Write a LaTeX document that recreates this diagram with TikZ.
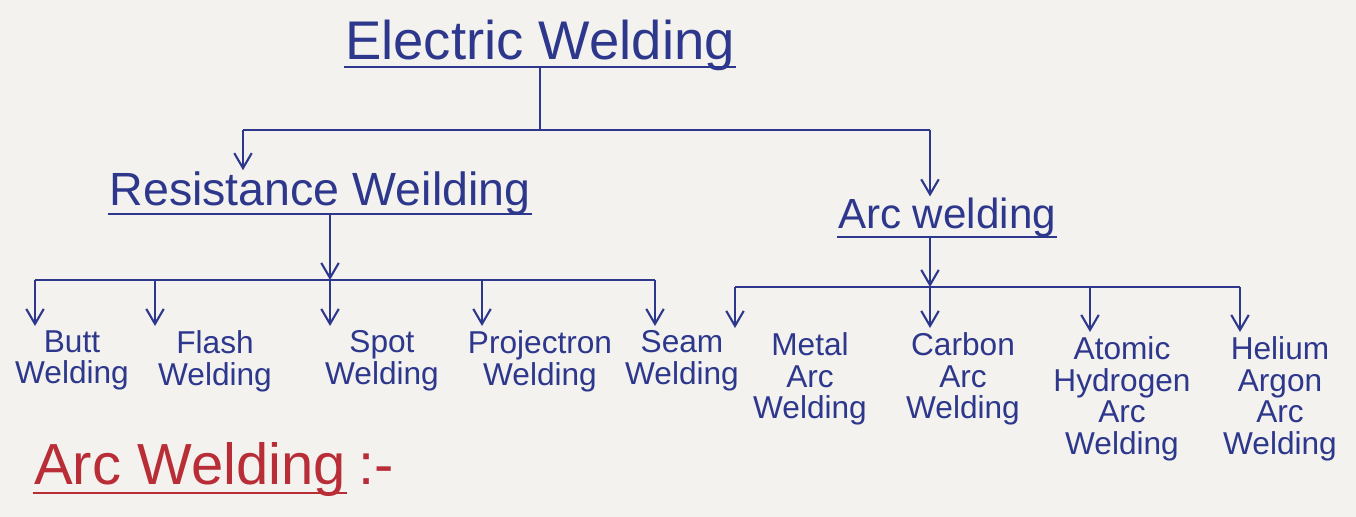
\documentclass[tikz,border=0pt]{standalone}
\usepackage{fontspec}
\setmainfont{Liberation Sans}
\usetikzlibrary{arrows.meta,positioning}
\definecolor{ink}{RGB}{45,55,140}
\definecolor{redink}{RGB}{185,45,55}
\definecolor{paper}{RGB}{243,242,239}
\begin{document}
\begin{tikzpicture}[x=0.02cm,y=-0.02cm,ink,line width=1.2pt,
    >={Straight Barb[length=3mm,width=3.5mm]},
    head/.style={inner sep=0pt,anchor=base,font=\fontsize{26.5}{28}\selectfont},
    kind/.style={inner sep=2pt,anchor=north,align=center,font=\fontsize{18}{18}\selectfont}]
  \fill[paper] (0,0) rectangle (1356,517);
  \useasboundingbox (0,0) rectangle (1356,517);

  \node[head,font=\fontsize{31}{34}\selectfont] (ew) at (540,60) {Electric Welding};
  \node[head] (rw) at (320,205) {Resistance Weilding};
  \node[head,font=\fontsize{24}{26}\selectfont] (aw) at (947,228) {Arc welding};

  \node[kind] (butt) at (72,326) {Butt\\Welding};
  \node[kind] (flash) at (215,326) {Flash\\Welding};
  \node[kind] (spot) at (382,326) {Spot\\Welding};
  \node[kind] (proj) at (540,326) {Projectron\\Welding};
  \node[kind] (seam) at (682,326) {Seam\\Welding};
  \node[kind] (metal) at (810,328) {Metal\\Arc\\Welding};
  \node[kind] (carbon) at (963,328) {Carbon\\Arc\\Welding};
  \node[kind] (atomic) at (1122,332) {Atomic\\Hydrogen\\Arc\\Welding};
  \node[kind] (helium) at (1280,332) {Helium\\Argon\\Arc\\Welding};

  \node[head,redink,font=\fontsize{33}{36}\selectfont] (note) at (190,484) {Arc Welding};
  \node[head,redink,anchor=base west,font=\fontsize{33}{36}\selectfont] (notec) at ([xshift=6pt]note.base east) {:-};

  % underlines
  \draw ([yshift=-4pt]ew.base west) -- ([yshift=-4pt]ew.base east);
  \draw ([yshift=-5pt]rw.base west) -- ([yshift=-5pt]rw.base east);
  \draw ([yshift=-5pt]aw.base west) -- ([yshift=-5pt]aw.base east);
  \draw[redink] ([yshift=-5pt]note.base west) -- ([yshift=-5pt]note.base east);

  % first level
  \coordinate (ewu) at (540,67);
  \coordinate (jl) at (243,130);
  \coordinate (jr) at (930,130);
  \draw (ewu) -- (ewu |- jl);
  \draw (jl) -- (jr);
  \draw[->] (jl) -- (jl |- rw.north);
  \draw[->] (jr) -- (jr |- aw.north);

  % resistance branch
  \coordinate (rwu) at (330,214);
  \coordinate (rb) at (330,280);
  \draw[->] (rwu) -- (rb);
  \draw (35,280) -- (655,280);
  \foreach \x/\n in {35/butt,155/flash,330/spot,482/proj,655/seam}
    \draw[->] (\x,280) -- (\x,280 |- \n.north);

  % arc branch
  \coordinate (awu) at (930,237);
  \coordinate (ab) at (930,287);
  \draw[->] (awu) -- (ab);
  \draw (735,287) -- (1240,287);
  \foreach \x/\n in {735/metal,930/carbon,1090/atomic,1240/helium}
    \draw[->] (\x,287) -- (\x,287 |- \n.north);
\end{tikzpicture}
\end{document}
